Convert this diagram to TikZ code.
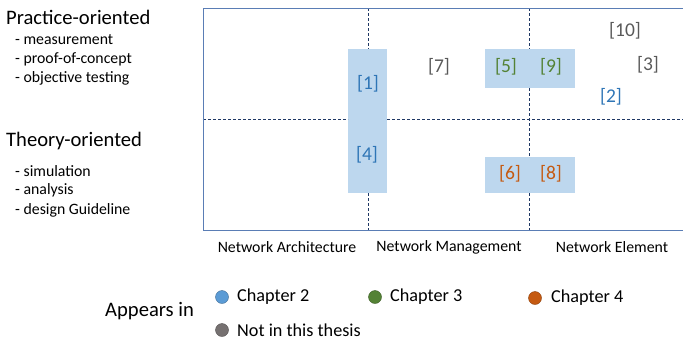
\documentclass[tikz,border=0pt]{standalone}
\usepackage{fontspec}
\setmainfont{Carlito}
\definecolor{cblue}{HTML}{2E75B6}
\definecolor{cgreen}{HTML}{548235}
\definecolor{corange}{HTML}{C55A11}
\definecolor{cgray}{HTML}{595959}
\definecolor{dblue}{HTML}{5B9BD5}
\definecolor{dgray}{HTML}{767171}
\definecolor{boxfill}{HTML}{BDD7EE}
\definecolor{framecol}{HTML}{5A7DB5}
\definecolor{dashcol}{HTML}{1F3864}
\begin{document}
\begin{tikzpicture}[x=1pt,y=-1pt,
  ref/.style={font=\fontsize{19.5}{21}\selectfont, inner sep=0pt},
  head/.style={font=\fontsize{20.6}{22}\selectfont, anchor=west, inner sep=0pt},
  item/.style={font=\fontsize{15.8}{17}\selectfont, anchor=west, inner sep=0pt},
  axis/.style={font=\fontsize{15.8}{17}\selectfont, inner sep=0pt},
  leg/.style={font=\fontsize{18.2}{20}\selectfont, anchor=west, inner sep=0pt},
  dot/.style={circle, minimum size=13pt, inner sep=0pt, draw=#1!70!black, line width=0.4pt, fill=#1},
  hl/.style={fill=boxfill, draw=none},
  gridline/.style={draw=dashcol, densely dashed, line width=0.7pt}]
\useasboundingbox (0,0) rectangle (683,341);
% highlight boxes
\fill[hl] (348,49) rectangle (387,193);
\fill[hl] (485,49) rectangle (575,88);
\fill[hl] (485,157) rectangle (575,193);
% dashed grid
\draw[gridline] (368,8) -- (368,49);
\draw[gridline] (368,193) -- (368,230);
\draw[gridline] (529,8) -- (529,49);
\draw[gridline] (529,88) -- (529,157);
\draw[gridline] (529,193) -- (529,230);
\draw[gridline] (203,119) -- (348,119);
\draw[gridline] (387,119) -- (683,119);
% frame
\draw[framecol, line width=0.9pt] (684,8) -- (203,8) -- (203,230) -- (684,230);
% references
\node[ref, text=cblue] (r1) at (368,84) {[1]};
\node[ref, text=cblue] (r4) at (367,155) {[4]};
\node[ref, text=cgray] (r7) at (439,67) {[7]};
\node[ref, text=cgreen] (r5) at (506,67) {[5]};
\node[ref, text=cgreen] (r9) at (551,67) {[9]};
\node[ref, text=cgray] (r10) at (625,31) {[10]};
\node[ref, text=cgray] (r3) at (648,65) {[3]};
\node[ref, text=cblue] (r2) at (611,97) {[2]};
\node[ref, text=corange] (r6) at (510,174) {[6]};
\node[ref, text=corange] (r8) at (551,174) {[8]};
% left labels
\node[head] (po) at (6,17) {Practice-oriented};
\node[item] (i1) at (15,40) {- measurement};
\node[item] (i2) at (15,59) {- proof-of-concept};
\node[item] (i3) at (15,78) {- objective testing};
\node[head] (to) at (6,141) {Theory-oriented};
\node[item] (j1) at (15,171) {- simulation};
\node[item] (j2) at (15,190) {- analysis};
\node[item] (j3) at (15,210) {- design Guideline};
% axis labels
\node[axis] (ax1) at (287,247) {Network Architecture};
\node[axis] (ax2) at (449,247) {Network Management};
\node[axis] (ax3) at (612,247) {Network Element};
% legend
\node[head] (app) at (105,311) {Appears in};
\node[dot=dblue] (d1) at (222,297) {};
\node[leg] (l1) at (237,297) {Chapter 2};
\node[dot=cgreen] (d2) at (375,297) {};
\node[leg] (l2) at (390,297) {Chapter 3};
\node[dot=corange] (d3) at (535,298) {};
\node[leg] (l3) at (551,298) {Chapter 4};
\node[dot=dgray] (d4) at (222,330) {};
\node[leg] (l4) at (237,330) {Not in this thesis};
\end{tikzpicture}
\end{document}
